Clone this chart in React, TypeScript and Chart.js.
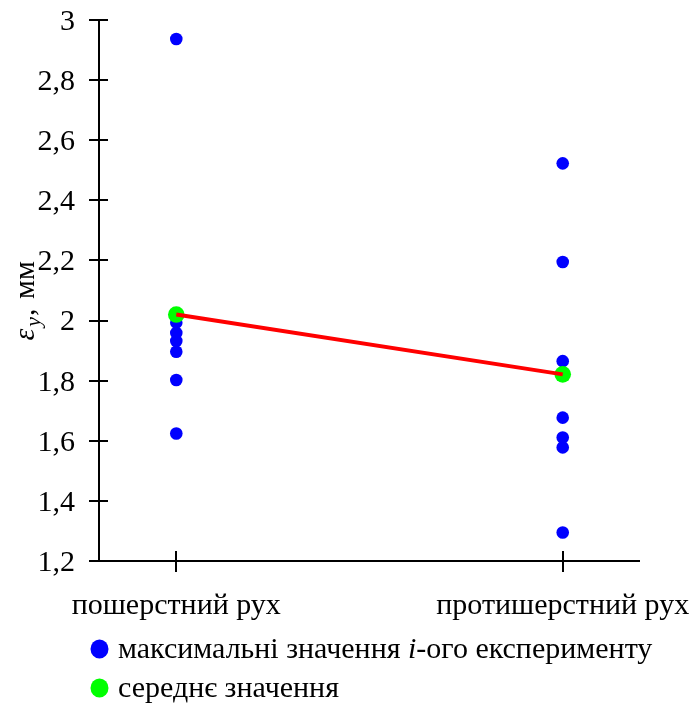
import React, { useEffect, useRef } from "react";
import { Chart, registerables } from "chart.js";

Chart.register(...registerables);

const categories = ["пошерстний рух", "протишерстний рух"];
const maxAlong = [2.937, 1.993, 1.959, 1.932, 1.896, 1.802, 1.624];
const maxAgainst = [2.523, 2.195, 1.865, 1.677, 1.611, 1.578, 1.295];
const meanValues = [2.02, 1.821];
const yTicks = [1.2, 1.4, 1.6, 1.8, 2, 2.2, 2.4, 2.6, 2.8, 3];
const legendLabels = ["максимальні значення ", "i", "-ого експерименту", "середнє значення"];

const FONT = "'Liberation Serif', 'Times New Roman', serif";
const BLUE = "#0000FF";
const GREEN = "#00FF00";
const RED = "#FF0000";

const fmt = (v: number) => String(Number(v.toFixed(1))).replace(".", ",");

const axesPlugin = {
  id: "customAxes",
  beforeDatasetsDraw(chart: any) {
    const ctx = chart.ctx;
    const { left, right, top, bottom } = chart.chartArea;
    const y = chart.scales.y;
    const x = chart.scales.x;
    ctx.save();
    ctx.strokeStyle = "#000";
    ctx.lineWidth = 2;
    ctx.beginPath();
    ctx.moveTo(left, top);
    ctx.lineTo(left, bottom);
    ctx.moveTo(left - 10, bottom);
    ctx.lineTo(right, bottom);
    yTicks.forEach((t) => {
      const py = Math.round(y.getPixelForValue(t));
      ctx.moveTo(left - 10, py);
      ctx.lineTo(left + 9, py);
    });
    [1, 2].forEach((t) => {
      const px = Math.round(x.getPixelForValue(t));
      ctx.moveTo(px, bottom - 10);
      ctx.lineTo(px, bottom + 11);
    });
    ctx.stroke();
    ctx.restore();
  },
  afterDraw(chart: any) {
    const ctx = chart.ctx;
    const { top, bottom } = chart.chartArea;
    ctx.save();
    // y axis title: εy, мм
    ctx.translate(34, (top + bottom) / 2);
    ctx.rotate(-Math.PI / 2);
    ctx.fillStyle = "#000";
    ctx.textBaseline = "alphabetic";
    let cx = -50;
    ctx.font = `italic 30px ${FONT}`;
    ctx.fillText("ε", cx, 0);
    cx += ctx.measureText("ε").width + 2;
    ctx.font = `italic 22px ${FONT}`;
    ctx.fillText("y", cx, 6);
    cx += ctx.measureText("y").width + 1;
    ctx.font = `30px ${FONT}`;
    ctx.fillText(",", cx, 0);
    cx += ctx.measureText(", ").width + 2;
    ctx.fillText("мм", cx, 0);
    ctx.restore();

    // legend
    ctx.save();
    ctx.textBaseline = "middle";
    const rows = [
      { color: BLUE, y: 649, parts: [[legendLabels[0], ""], [legendLabels[1], "italic "], [legendLabels[2], ""]] },
      { color: GREEN, y: 688, parts: [[legendLabels[3], ""]] },
    ];
    rows.forEach((r) => {
      ctx.fillStyle = r.color;
      ctx.beginPath();
      ctx.ellipse(99.5, r.y, 9, 9.5, 0, 0, Math.PI * 2);
      ctx.fill();
      ctx.fillStyle = "#000";
      let px = 118;
      r.parts.forEach(([txt, st]) => {
        ctx.font = `${st}30px ${FONT}`;
        ctx.fillText(txt, px, r.y + 1);
        px += ctx.measureText(txt).width;
      });
    });
    ctx.restore();
  },
};

export default function App() {
  const ref = useRef<HTMLCanvasElement | null>(null);
  useEffect(() => {
    if (!ref.current) return;
    const chart = new Chart(ref.current, {
      type: "scatter",
      data: {
        datasets: [
          {
            label: "максимальні значення i-ого експерименту",
            data: [
              ...maxAlong.map((v) => ({ x: 1, y: v })),
              ...maxAgainst.map((v) => ({ x: 2, y: v })),
            ],
            backgroundColor: BLUE,
            borderColor: BLUE,
            borderWidth: 0,
            pointRadius: 6.3,
            order: 3,
          },
          {
            label: "середнє значення",
            data: meanValues.map((v, i) => ({ x: i + 1, y: v })),
            backgroundColor: GREEN,
            borderColor: GREEN,
            borderWidth: 0,
            pointRadius: 8.3,
            order: 2,
          },
          {
            label: "line",
            type: "line",
            data: meanValues.map((v, i) => ({ x: i + 1, y: v })),
            borderColor: RED,
            borderWidth: 4,
            pointRadius: 0,
            fill: false,
            order: 1,
          } as any,
        ],
      },
      options: {
        animation: false,
        responsive: false,
        maintainAspectRatio: false,
        layout: { padding: { top: 20, right: 52, left: 0, bottom: 0 } },
        plugins: { legend: { display: false }, tooltip: { enabled: false } },
        scales: {
          x: {
            type: "linear",
            min: 0.8,
            max: 2.2,
            afterBuildTicks: (s: any) => {
              s.ticks = [{ value: 1 }, { value: 2 }];
            },
            afterFit: (s: any) => {
              s.height = 144;
              s.paddingLeft = 0;
              s.paddingRight = 0;
            },
            grid: { display: false, drawTicks: false },
            border: { display: false },
            ticks: {
              color: "#000",
              font: { family: FONT, size: 30 },
              padding: 27,
              maxRotation: 0,
              autoSkip: false,
              callback: (v: any) => categories[Number(v) - 1] ?? "",
            },
          },
          y: {
            type: "linear",
            min: 1.2,
            max: 3,
            afterBuildTicks: (s: any) => {
              s.ticks = yTicks.map((v) => ({ value: v }));
            },
            afterFit: (s: any) => {
              s.width = 99;
              s.paddingTop = 0;
              s.paddingBottom = 0;
            },
            grid: { display: false, drawTicks: false },
            border: { display: false },
            ticks: {
              color: "#000",
              font: { family: FONT, size: 30 },
              padding: 24,
              labelOffset: 2,
              callback: (v: any) => fmt(Number(v)),
            },
          },
        },
      },
      plugins: [axesPlugin],
    } as any);
    return () => chart.destroy();
  }, []);
  return (
    <div style={{ position: "fixed", left: 0, top: 0, width: 692, height: 705, background: "#fff" }}>
      <canvas ref={ref} width={692} height={705} style={{ display: "block" }} />
    </div>
  );
}
